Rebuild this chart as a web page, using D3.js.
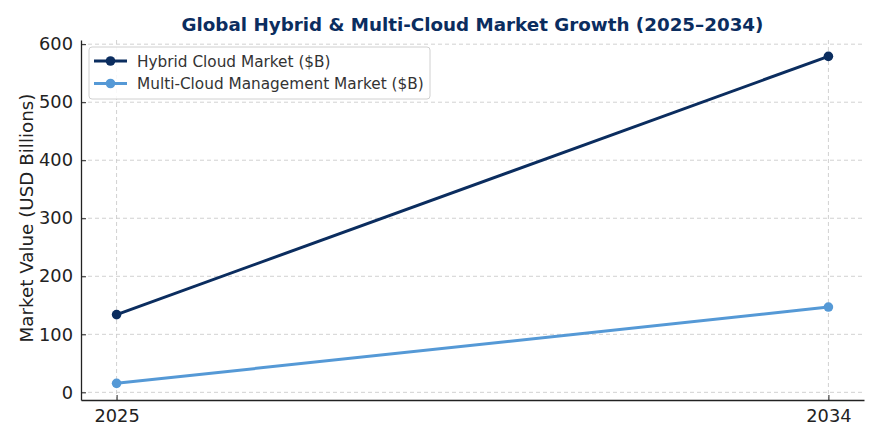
<!DOCTYPE html>
<html><head><meta charset="utf-8">
<script src="https://cdn.jsdelivr.net/npm/d3@7"></script>
<style>body{margin:0;background:#fff}svg{display:block}text{font-family:"DejaVu Sans",sans-serif}</style>
</head><body>
<svg id="c" width="880" height="440"></svg>
<script>
const years = [2025, 2034];
const hybrid = [134, 579];
const multi = [15.5, 147];
const yTicks = [0, 100, 200, 300, 400, 500, 600];
const seriesNames = ["Hybrid Cloud Market ($B)", "Multi-Cloud Management Market ($B)"];
const seriesColors = ["#0b2d5f", "#5599d6"];
const title = "Global Hybrid & Multi-Cloud Market Growth (2025–2034)";
const yLabel = "Market Value (USD Billions)";

const svg = d3.select("#c");
const L = 81, R = 864, T = 40, B = 400;
const x = d3.scaleLinear().domain([2024.55, 2034.45]).range([L, R]);
const y = d3.scaleLinear().domain([-13.2, 607.2]).range([B, T]);

// grid
const g = svg.append("g");
g.selectAll(".gy").data(yTicks).join("line")
  .attr("x1", L).attr("x2", R).attr("y1", d => y(d)).attr("y2", d => y(d))
  .attr("stroke", "#cccccc").attr("stroke-dasharray", "4,3").attr("stroke-width", 0.9);
g.selectAll(".gx").data(years).join("line")
  .attr("y1", T).attr("y2", B).attr("x1", d => x(d)).attr("x2", d => x(d))
  .attr("stroke", "#cccccc").attr("stroke-dasharray", "4,3").attr("stroke-width", 0.9);

// axes
const xa = svg.append("g").attr("transform", `translate(0,${B})`)
  .call(d3.axisBottom(x).tickValues(years).tickFormat(d3.format("d")).tickSizeInner(-5).tickSizeOuter(0).tickPadding(9));
const ya = svg.append("g").attr("transform", `translate(${L},0)`)
  .call(d3.axisLeft(y).tickValues(yTicks).tickSizeInner(-5).tickSizeOuter(0).tickPadding(8));
[xa, ya].forEach(a => {
  a.select(".domain").attr("stroke", "#222").attr("stroke-width", 1.3);
  a.selectAll(".tick line").attr("stroke", "#222").attr("stroke-width", 1);
  a.selectAll("text").attr("font-size", 17.8).attr("fill", "#222").attr("font-family", "DejaVu Sans");
});

// lines
const data = [hybrid, multi];
const line = d3.line().x((d, i) => x(years[i])).y(d => y(d));
data.forEach((s, k) => {
  svg.append("path").datum(s).attr("d", line).attr("fill", "none")
    .attr("stroke", seriesColors[k]).attr("stroke-width", 3);
  svg.selectAll(null).data(s).join("circle")
    .attr("cx", (d, i) => x(years[i])).attr("cy", d => y(d)).attr("r", 4.8)
    .attr("fill", seriesColors[k]);
});

// title
svg.append("text").attr("x", (L + R) / 2).attr("y", 31).attr("text-anchor", "middle")
  .attr("font-size", 18.3).attr("font-weight", "bold").attr("fill", "#0b2d5f").text(title);

// y label
svg.append("text").attr("transform", `translate(33,218) rotate(-90)`)
  .attr("text-anchor", "middle").attr("font-size", 18.3).attr("fill", "#222").text(yLabel);

// legend
const lg = svg.append("g");
lg.append("rect").attr("x", 89).attr("y", 47).attr("width", 341).attr("height", 52).attr("rx", 3)
  .attr("fill", "#fff").attr("fill-opacity", 0.85).attr("stroke", "#d0d0d0");
seriesNames.forEach((n, k) => {
  const cy = 61 + k * 22.5;
  lg.append("line").attr("x1", 94).attr("x2", 127).attr("y1", cy).attr("y2", cy)
    .attr("stroke", seriesColors[k]).attr("stroke-width", 3);
  lg.append("circle").attr("cx", 110.5).attr("cy", cy).attr("r", 4.8).attr("fill", seriesColors[k]);
  lg.append("text").attr("x", 137).attr("y", cy + 5.5).attr("font-size", 15.3).attr("fill", "#333").text(n);
});
</script>
</body></html>
